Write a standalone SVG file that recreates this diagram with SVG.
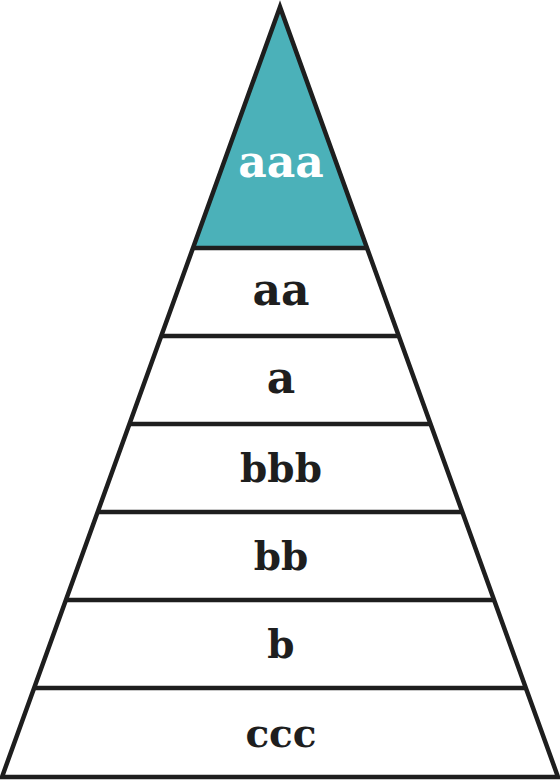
<svg xmlns="http://www.w3.org/2000/svg" width="560" height="780" viewBox="0 0 560 780">
<style>
.edge{stroke:#1e1e1e;stroke-width:4.5;fill:none;stroke-linejoin:miter;stroke-miterlimit:10}
.lbl{font-family:"DejaVu Serif","Liberation Serif",serif;font-weight:bold;font-size:39px;text-anchor:middle;fill:#1e1e1e}
.big{font-size:44px}
.top{fill:#ffffff}
</style>
<rect width="560" height="780" fill="#ffffff"/>
<g id="tier-aaa">
<polygon points="280,7 194,248 366,248" fill="#4bb1b9"/>
<text class="lbl big top" x="281" y="177">aaa</text>
</g>
<g id="tier-aa"><text class="lbl big" x="281" y="305">aa</text></g>
<g id="tier-a"><text class="lbl big" x="281" y="393">a</text></g>
<g id="tier-bbb"><text class="lbl" x="281" y="482">bbb</text></g>
<g id="tier-bb"><text class="lbl" x="281" y="570">bb</text></g>
<g id="tier-b"><text class="lbl" x="281" y="658">b</text></g>
<g id="tier-ccc"><text class="lbl" x="281" y="747">ccc</text></g>
<g id="connectors">
<polygon class="edge" points="280,7 2,777 558,777"/>
<line class="edge" x1="194" y1="248" x2="366" y2="248"/>
<line class="edge" x1="162" y1="336" x2="398" y2="336"/>
<line class="edge" x1="130" y1="424" x2="430" y2="424"/>
<line class="edge" x1="98" y1="512" x2="462" y2="512"/>
<line class="edge" x1="66" y1="600" x2="494" y2="600"/>
<line class="edge" x1="34" y1="688" x2="526" y2="688"/>
</g>
</svg>
